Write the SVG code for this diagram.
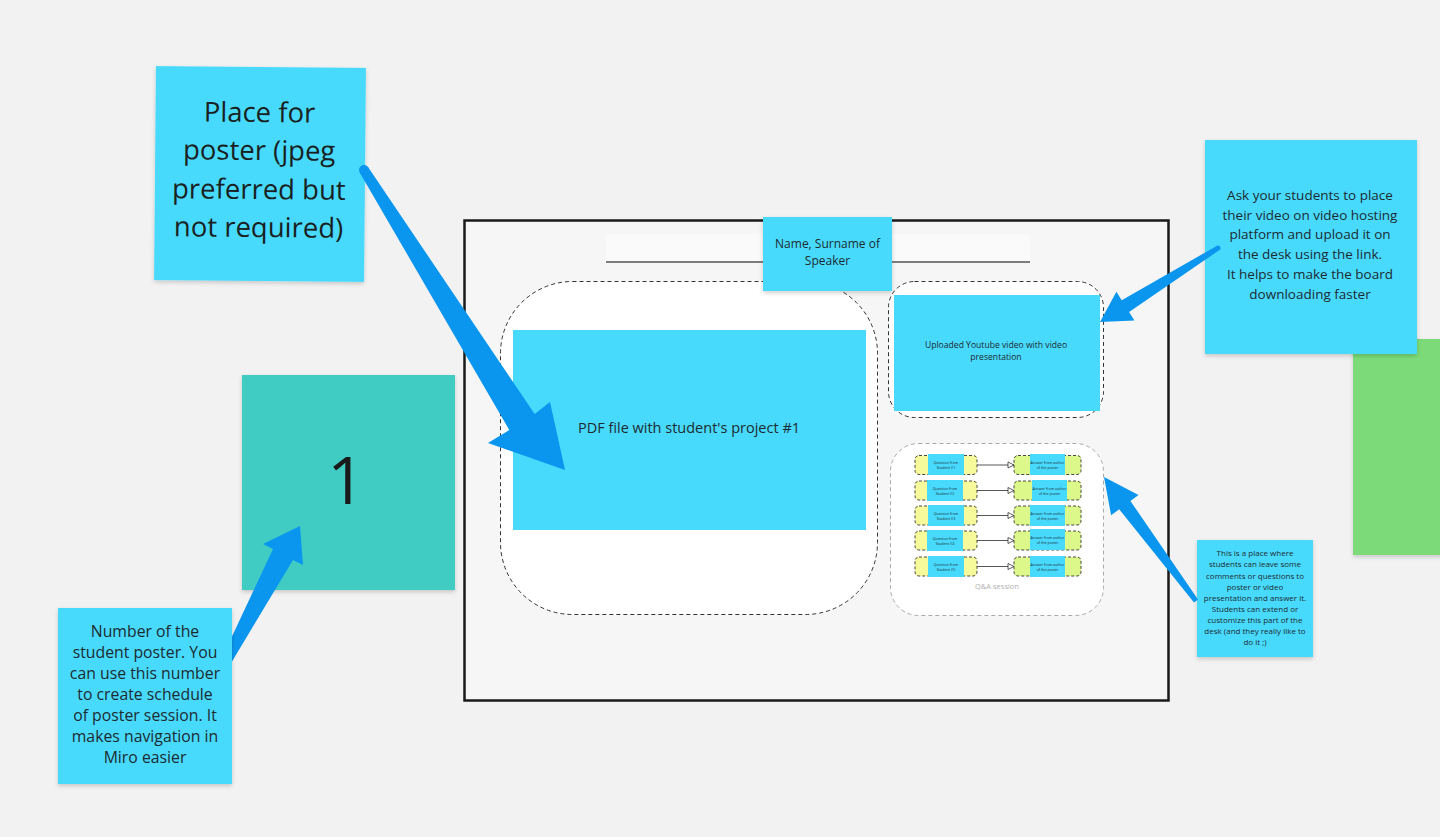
<svg xmlns="http://www.w3.org/2000/svg" width="1440" height="837" viewBox="0 0 1440 837">
<defs>
<filter id="sh" x="-10%" y="-10%" width="120%" height="125%">
<feDropShadow dx="0" dy="2" stdDeviation="2" flood-color="#000" flood-opacity="0.18"/>
</filter>
<marker id="oh" markerWidth="8" markerHeight="8" refX="7" refY="4" orient="auto" markerUnits="userSpaceOnUse">
<path d="M1,1 L7,4 L1,7 Z" fill="#fff" stroke="#333" stroke-width="0.8"/>
</marker>
</defs>
<style>
text{font-family:"Open Sans","Noto Sans","Liberation Sans",sans-serif;fill:#1f2a30;text-anchor:middle}
.blue{fill:#47dafd}
.dash{fill:#fff;stroke:#333;stroke-width:1;stroke-dasharray:4 3}
.qy{fill:#f7fa9a;stroke:#333;stroke-width:0.9;stroke-dasharray:3 2}
.ag{fill:#dcf78a;stroke:#333;stroke-width:0.9;stroke-dasharray:3 2}
.qb{fill:#47dafd}
.tiny{font-size:3.6px}
.arr{fill:#0a96ef}
.cn{stroke:#444;stroke-width:0.9;fill:none}
</style>
<rect width="1440" height="837" fill="#f2f2f2"/>

<g id="green-sticky"><rect x="1353" y="339" width="90" height="216" fill="#7bdb78" filter="url(#sh)"/></g>

<g id="frame">
<rect x="464.5" y="220.5" width="704" height="480" fill="#f6f6f6" stroke="#1a1a1a" stroke-width="2.5"/>
<rect x="606" y="234" width="424" height="28" fill="#fafafa"/>
<line x1="606" y1="262" x2="1030" y2="262" stroke="#555" stroke-width="1.5"/>
</g>

<g id="pdf-area">
<rect x="500.5" y="281.5" width="377" height="333" rx="72" class="dash"/>
<rect x="513" y="330" width="353" height="200" class="blue"/>
<text x="689" y="433" font-size="14.5">PDF file with student's project #1</text>
</g>

<g id="video-area">
<rect x="888.5" y="281.5" width="215" height="136" rx="26" class="dash"/>
<rect x="894" y="295" width="206" height="116" class="blue"/>
<text x="996" y="348" font-size="8.6">Uploaded Youtube video with video</text>
<text x="996" y="360" font-size="8.6">presentation</text>
</g>

<g id="qa-area">
<rect x="890.5" y="443.5" width="213" height="172" rx="28" fill="#fff" stroke="#aaa" stroke-width="1" stroke-dasharray="4 3"/>
<text x="997" y="589" font-size="7.5" style="fill:#b0b0b0">Q&amp;A session</text>
</g>

<g id="connectors">
<line x1="977" y1="465" x2="1014" y2="465" class="cn" marker-end="url(#oh)"/>
<line x1="977" y1="490.5" x2="1014" y2="490.5" class="cn" marker-end="url(#oh)"/>
<line x1="977" y1="515.5" x2="1014" y2="515.5" class="cn" marker-end="url(#oh)"/>
<line x1="977" y1="540.5" x2="1014" y2="540.5" class="cn" marker-end="url(#oh)"/>
<line x1="977" y1="566.5" x2="1014" y2="566.5" class="cn" marker-end="url(#oh)"/>
</g>

<g id="q1"><rect x="915" y="455.5" width="62" height="19" rx="4" class="qy"/><rect x="928" y="454" width="36" height="21" class="qb"/><text x="946" y="464" class="tiny">Question from</text><text x="946" y="469" class="tiny">Student #1</text></g>
<g id="q2"><rect x="915" y="481" width="62" height="19" rx="4" class="qy"/><rect x="927" y="480" width="36" height="21" class="qb"/><text x="945" y="489.5" class="tiny">Question from</text><text x="945" y="494.5" class="tiny">Student #2</text></g>
<g id="q3"><rect x="915" y="506" width="62" height="19" rx="4" class="qy"/><rect x="928" y="505" width="36" height="21" class="qb"/><text x="946" y="514.5" class="tiny">Question from</text><text x="946" y="519.5" class="tiny">Student #3</text></g>
<g id="q4"><rect x="915" y="531" width="62" height="19" rx="4" class="qy"/><rect x="927" y="530" width="36" height="21" class="qb"/><text x="945" y="539.5" class="tiny">Question from</text><text x="945" y="544.5" class="tiny">Student #4</text></g>
<g id="q5"><rect x="915" y="557" width="62" height="19" rx="4" class="qy"/><rect x="928" y="556" width="36" height="21" class="qb"/><text x="946" y="565.5" class="tiny">Question from</text><text x="946" y="570.5" class="tiny">Student #5</text></g>

<g id="a1"><rect x="1014" y="455.5" width="67" height="19" rx="4" class="ag"/><rect x="1030" y="454" width="35" height="21" class="qb"/><text x="1047.5" y="464" class="tiny">Answer from author</text><text x="1047.5" y="469" class="tiny">of the poster</text></g>
<g id="a2"><rect x="1014" y="481" width="67" height="19" rx="4" class="ag"/><rect x="1032" y="480" width="35" height="21" class="qb"/><text x="1049.5" y="489.5" class="tiny">Answer from author</text><text x="1049.5" y="494.5" class="tiny">of the poster</text></g>
<g id="a3"><rect x="1014" y="506" width="67" height="19" rx="4" class="ag"/><rect x="1030" y="505" width="35" height="21" class="qb"/><text x="1047.5" y="514.5" class="tiny">Answer from author</text><text x="1047.5" y="519.5" class="tiny">of the poster</text></g>
<g id="a4"><rect x="1014" y="531" width="67" height="19" rx="4" class="ag"/><rect x="1030" y="529" width="35" height="21" class="qb"/><text x="1047.5" y="538.5" class="tiny">Answer from author</text><text x="1047.5" y="543.5" class="tiny">of the poster</text></g>
<g id="a5"><rect x="1014" y="557" width="67" height="19" rx="4" class="ag"/><rect x="1030" y="556" width="35" height="21" class="qb"/><text x="1047.5" y="565.5" class="tiny">Answer from author</text><text x="1047.5" y="570.5" class="tiny">of the poster</text></g>

<g id="name-sticky">
<rect x="763" y="217" width="129" height="74" class="blue" filter="url(#sh)"/>
<text x="827.5" y="248" font-size="12">Name, Surname of</text>
<text x="827.5" y="265" font-size="12">Speaker</text>
</g>

<g id="number-sticky">
<rect x="242" y="375" width="213" height="215" fill="#40cbc3" filter="url(#sh)"/>
<text x="346" y="504" font-size="66" style="fill:#1a1a1a">1</text>
</g>

<g id="arrow-number"><polygon class="arr" points="218.5,683.9 293,560 303,565 300,526 263,544 273,549 211.5,680.1"/></g>

<g id="poster-sticky" transform="rotate(0.5 260 174)">
<rect x="155" y="67" width="210" height="214" class="blue" filter="url(#sh)"/>
<text x="259" y="122" font-size="27.5" style="fill:#1a1f22">Place for</text>
<text x="259" y="160" font-size="27.5" style="fill:#1a1f22">poster (jpeg</text>
<text x="259" y="199" font-size="27.5" style="fill:#1a1f22">preferred but</text>
<text x="259" y="237" font-size="27.5" style="fill:#1a1f22">not required)</text>
</g>

<g id="number-note">
<rect x="58" y="608" width="174" height="176" class="blue" filter="url(#sh)"/>
<text x="145" y="637" font-size="15.8">Number of the</text>
<text x="145" y="658" font-size="15.8">student poster. You</text>
<text x="145" y="679" font-size="15.8">can use this number</text>
<text x="145" y="700" font-size="15.8">to create schedule</text>
<text x="145" y="721" font-size="15.8">of poster session. It</text>
<text x="145" y="742" font-size="15.8">makes navigation in</text>
<text x="145" y="763" font-size="15.8">Miro easier</text>
</g>

<g id="video-note">
<rect x="1205" y="140" width="212" height="214" class="blue" filter="url(#sh)"/>
<text x="1310" y="200" font-size="13.5">Ask your students to place</text>
<text x="1310" y="219.5" font-size="13.5">their video on video hosting</text>
<text x="1310" y="239" font-size="13.5">platform and upload it  on</text>
<text x="1310" y="259" font-size="13.5">the desk using the link.</text>
<text x="1310" y="279" font-size="13.5">It helps to make the board</text>
<text x="1310" y="299" font-size="13.5">downloading faster</text>
</g>

<g id="qa-note">
<rect x="1197" y="540" width="116" height="117" class="blue" filter="url(#sh)"/>
<text x="1255" y="556" font-size="8">This is a place where</text>
<text x="1255" y="567" font-size="8">students can leave some</text>
<text x="1255" y="578.5" font-size="8">comments or questions to</text>
<text x="1255" y="589.5" font-size="8">poster or video</text>
<text x="1255" y="600.5" font-size="8">presentation and answer it.</text>
<text x="1255" y="611.5" font-size="8">Students can extend or</text>
<text x="1255" y="622.5" font-size="8">customize this part of the</text>
<text x="1255" y="633.5" font-size="8">desk (and they really like to</text>
<text x="1255" y="644.5" font-size="8">do it ;)</text>
</g>

<g id="arrow-poster">
<polygon class="arr" points="368.2,167.3 534.7,414 550,402 565,470 488,443 509.3,430 359.8,172.7"/>
<circle class="arr" cx="364" cy="170" r="5"/>
</g>
<g id="arrow-video">
<polygon class="arr" points="1219.3,250.1 1129.1,312 1134.4,320.5 1100,322 1116.4,291.7 1121.7,300.2 1216.7,245.9"/>
<circle class="arr" cx="1218" cy="248" r="2.5"/>
</g>
<g id="arrow-qa"><polygon class="arr" points="1198,599.5 1130.4,500.9 1138.5,495 1104,477 1111.1,515.2 1119.2,509.3 1194,602.5"/></g>
</svg>
